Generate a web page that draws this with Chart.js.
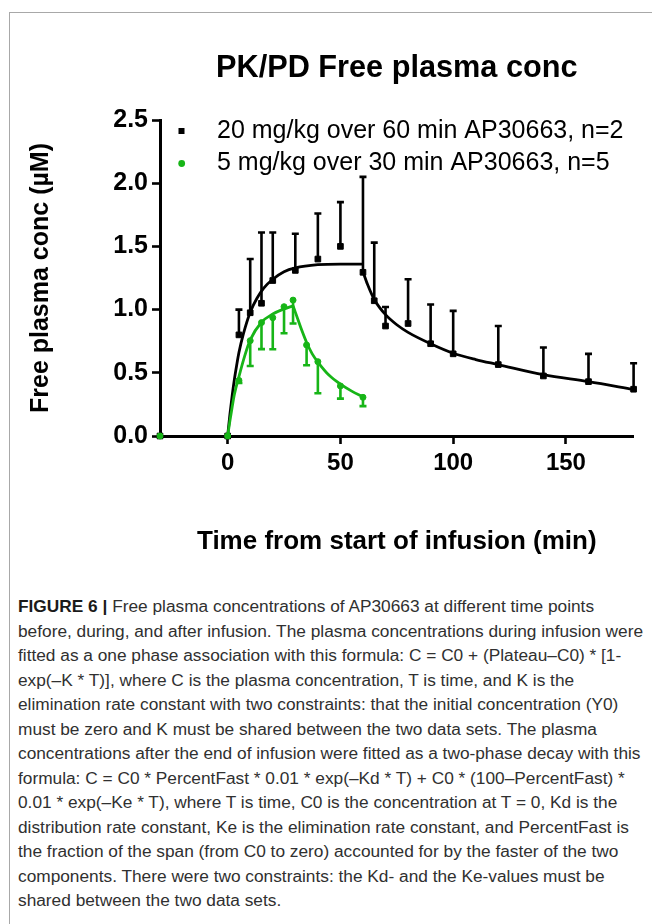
<!DOCTYPE html>
<html>
<head>
<meta charset="utf-8">
<script src="https://cdn.jsdelivr.net/npm/chart.js@4.4.1/dist/chart.umd.min.js"></script>
<style>
  html, body { margin: 0; padding: 0; background: #fff; }
  body { width: 652px; height: 924px; position: relative; overflow: hidden; font-family: "Liberation Sans", Arial, sans-serif; }
  #frame { position: absolute; left: 9px; top: 12px; width: 660px; height: 930px; border-left: 1px solid #a8a8a8; border-top: 1px solid #a8a8a8; }
  #chart_box { position: absolute; left: 0; top: 0; width: 652px; height: 580px; }
  #caption { position: absolute; left: 18px; top: 594px; font-size: 17.3px; line-height: 24.5px; color: #303030; white-space: nowrap; }
  #caption b { color: #1a1a1a; }
</style>
</head>
<body>
<div id="frame"></div>
<div id="chart_box"><canvas id="pk_chart" width="652" height="580"></canvas></div>
<div id="caption">
<b>FIGURE 6 |</b> Free plasma concentrations of AP30663 at different time points<br>
before, during, and after infusion. The plasma concentrations during infusion were<br>
fitted as a one phase association with this formula: C = C0 + (Plateau–C0) * [1-<br>
exp(–K * T)], where C is the plasma concentration, T is time, and K is the<br>
elimination rate constant with two constraints: that the initial concentration (Y0)<br>
must be zero and K must be shared between the two data sets. The plasma<br>
concentrations after the end of infusion were fitted as a two-phase decay with this<br>
formula: C = C0 * PercentFast * 0.01 * exp(–Kd * T) + C0 * (100–PercentFast) *<br>
0.01 * exp(–Ke * T), where T is time, C0 is the concentration at T = 0, Kd is the<br>
distribution rate constant, Ke is the elimination rate constant, and PercentFast is<br>
the fraction of the span (from C0 to zero) accounted for by the faster of the two<br>
components. There were two constraints: the Kd- and the Ke-values must be<br>
shared between the two data sets.
</div>
<script>
const chart_title = 'PK/PD Free plasma conc';
const x_title = 'Time from start of infusion (min)';
const y_title = 'Free plasma conc (\u00b5M)';
const x_tick_values = [0, 50, 100, 150];
const y_tick_values = [0, 0.5, 1.0, 1.5, 2.0, 2.5];

const high_dose_label = '20 mg/kg over 60 min AP30663, n=2';
const high_dose_time = [-30, 0, 5, 10, 15, 20, 30, 40, 50, 60, 65, 70, 80, 90, 100, 120, 140, 160, 180];
const high_dose_conc = [0, 0, 0.80, 0.975, 1.05, 1.23, 1.31, 1.40, 1.50, 1.295, 1.07, 0.87, 0.89, 0.73, 0.65, 0.565, 0.475, 0.43, 0.37];
const high_dose_sd = [0, 0, 0.20, 0.425, 0.56, 0.38, 0.29, 0.36, 0.35, 0.755, 0.46, 0.15, 0.35, 0.31, 0.34, 0.305, 0.225, 0.22, 0.205];

const low_dose_label = '5 mg/kg over 30 min AP30663, n=5';
const low_dose_time = [-30, 0, 5, 10, 15, 20, 25, 29, 35, 40, 50, 60];
const low_dose_conc = [0, 0, 0.44, 0.754, 0.897, 0.936, 1.023, 1.075, 0.72, 0.588, 0.396, 0.306];
const low_dose_sd = [0, 0, 0.02, 0.20, 0.21, 0.25, 0.21, 0.185, 0.16, 0.25, 0.10, 0.07];

// fitted curves
const high_fit_rise_time = [0, 1, 2, 3, 4, 5, 7, 10, 13, 16, 20, 25, 30, 40, 50, 60];
const high_fit_rise_conc = [0, 0.17, 0.32, 0.45, 0.56, 0.66, 0.81, 0.98, 1.09, 1.17, 1.24, 1.30, 1.33, 1.355, 1.36, 1.36];
const high_fit_decay_time = [60, 62, 65, 70, 75, 80, 90, 100, 110, 120, 140, 160, 180];
const high_fit_decay_conc = [1.30, 1.20, 1.08, 0.96, 0.88, 0.82, 0.73, 0.655, 0.605, 0.565, 0.485, 0.43, 0.368];
const low_fit_rise_time = [0, 1, 2, 3, 5, 7.5, 10, 15, 20, 25, 29];
const low_fit_rise_conc = [0, 0.12, 0.23, 0.33, 0.47, 0.63, 0.76, 0.90, 0.965, 1.005, 1.03];
const low_fit_decay_time = [29, 31, 33, 35, 37.5, 40, 45, 50, 55, 60];
const low_fit_decay_conc = [1.03, 0.93, 0.83, 0.74, 0.65, 0.585, 0.48, 0.41, 0.355, 0.31];

const pk_colors = {
    high: '#000000',
    low: '#17b517',
};
const font_family = '"Liberation Sans", Arial, sans-serif';

function to_points(times, values) {
    return times.map((t, i) => ({ x: t, y: values[i] }));
}

function fit_dataset(times, values, color) {
    return {
        data: to_points(times, values),
        borderColor: color,
        borderWidth: 2.8,
        pointRadius: 0,
        fill: false,
        cubicInterpolationMode: 'monotone',
        clip: false,
    };
}

const error_bar_plugin = {
    id: 'error_bars',
    afterDatasetDraw(chart, args) {
        const ds = chart.data.datasets[args.index];
        if (!ds.error_values) {
            return;
        }
        const y_scale = chart.scales.y;
        const ctx = chart.ctx;
        ctx.save();
        ctx.strokeStyle = ds.borderColor;
        ctx.lineWidth = 2.6;
        args.meta.data.forEach((pt, i) => {
            const sd = ds.error_values[i];
            if (!sd) {
                return;
            }
            const end_y = y_scale.getPixelForValue(ds.data[i].y + ds.error_dir * sd);
            ctx.beginPath();
            ctx.moveTo(pt.x, pt.y);
            ctx.lineTo(pt.x, end_y);
            ctx.moveTo(pt.x - 3.5, end_y);
            ctx.lineTo(pt.x + 3.5, end_y);
            ctx.stroke();
        });
        ctx.restore();
    },
};

const title_legend_plugin = {
    id: 'title_legend',
    afterDraw(chart) {
        const ctx = chart.ctx;
        const area = chart.chartArea;
        ctx.save();
        ctx.fillStyle = '#000';
        ctx.font = 'bold 30.7px ' + font_family;
        ctx.textAlign = 'center';
        ctx.textBaseline = 'middle';
        ctx.fillText(chart_title, (area.left + area.right) / 2, 69);

        ctx.font = '25px ' + font_family;
        ctx.textAlign = 'left';
        let row_y = 131;
        chart.data.datasets.forEach((ds) => {
            if (!ds.label) {
                return;
            }
            ctx.fillStyle = ds.backgroundColor;
            if (ds.pointStyle === 'rect') {
                ctx.fillRect(178.5, row_y - 3, 6, 6);
            } else {
                ctx.beginPath();
                ctx.arc(181.7, row_y, 3.4, 0, Math.PI * 2);
                ctx.fill();
            }
            ctx.fillStyle = '#000';
            ctx.fillText(ds.label, 217, row_y);
            row_y += 32.5;
        });
        ctx.restore();
    },
};

const pk_chart = new Chart(document.getElementById('pk_chart').getContext('2d'), {
    type: 'line',
    data: {
        datasets: [
            {
                label: high_dose_label,
                data: to_points(high_dose_time, high_dose_conc),
                error_values: high_dose_sd,
                error_dir: 1,
                showLine: false,
                pointStyle: 'rect',
                pointRadius: 4,
                pointBorderWidth: 1,
                borderColor: pk_colors.high,
                backgroundColor: pk_colors.high,
                clip: false,
                order: 3,
            },
            {
                label: low_dose_label,
                data: to_points(low_dose_time, low_dose_conc),
                error_values: low_dose_sd,
                error_dir: -1,
                showLine: false,
                pointStyle: 'circle',
                pointRadius: 3,
                pointBorderWidth: 1,
                borderColor: pk_colors.low,
                backgroundColor: pk_colors.low,
                clip: false,
                order: 0,
            },
            Object.assign(fit_dataset(high_fit_rise_time, high_fit_rise_conc, pk_colors.high), { order: 4 }),
            Object.assign(fit_dataset(high_fit_decay_time, high_fit_decay_conc, pk_colors.high), { order: 4 }),
            Object.assign(fit_dataset(low_fit_rise_time, low_fit_rise_conc, pk_colors.low), { order: 1 }),
            Object.assign(fit_dataset(low_fit_decay_time, low_fit_decay_conc, pk_colors.low), { order: 1 }),
        ],
    },
    options: {
        responsive: false,
        animation: false,
        layout: {
            padding: { left: 20, top: 120, right: 18.4, bottom: 0 },
        },
        plugins: {
            legend: { display: false },
            tooltip: { enabled: false },
        },
        scales: {
            x: {
                type: 'linear',
                min: -30,
                max: 180,
                afterBuildTicks(scale) {
                    scale.ticks = x_tick_values.map((v) => ({ value: v }));
                },
                afterFit(scale) {
                    scale.height = 144;
                },
                border: { display: true, color: '#000', width: 3 },
                grid: { drawOnChartArea: false, drawTicks: true, tickLength: 8, tickWidth: 2.6, tickColor: '#000' },
                ticks: {
                    color: '#000',
                    padding: 5,
                    maxRotation: 0,
                    font: { family: font_family, size: 24, weight: 'bold' },
                    callback: (v) => String(v),
                },
                title: {
                    display: true,
                    text: x_title,
                    color: '#000',
                    padding: { top: 0, bottom: 23 },
                    font: { family: font_family, size: 26, weight: 'bold' },
                },
            },
            y: {
                min: 0,
                max: 2.5,
                afterBuildTicks(scale) {
                    scale.ticks = y_tick_values.map((v) => ({ value: v }));
                },
                afterFit(scale) {
                    scale.width = 140;
                },
                border: { display: true, color: '#000', width: 3 },
                grid: { drawOnChartArea: false, drawTicks: true, tickLength: 8, tickWidth: 2.6, tickColor: '#000' },
                ticks: {
                    color: '#000',
                    padding: 4,
                    font: { family: font_family, size: 25, weight: 'bold' },
                    callback: (v) => Number(v).toFixed(1),
                },
                title: {
                    display: true,
                    text: y_title,
                    color: '#000',
                    padding: { top: 6, bottom: 0 },
                    font: { family: font_family, size: 25, weight: 'bold' },
                },
            },
        },
    },
    plugins: [error_bar_plugin, title_legend_plugin],
});
</script>
</body>
</html>
